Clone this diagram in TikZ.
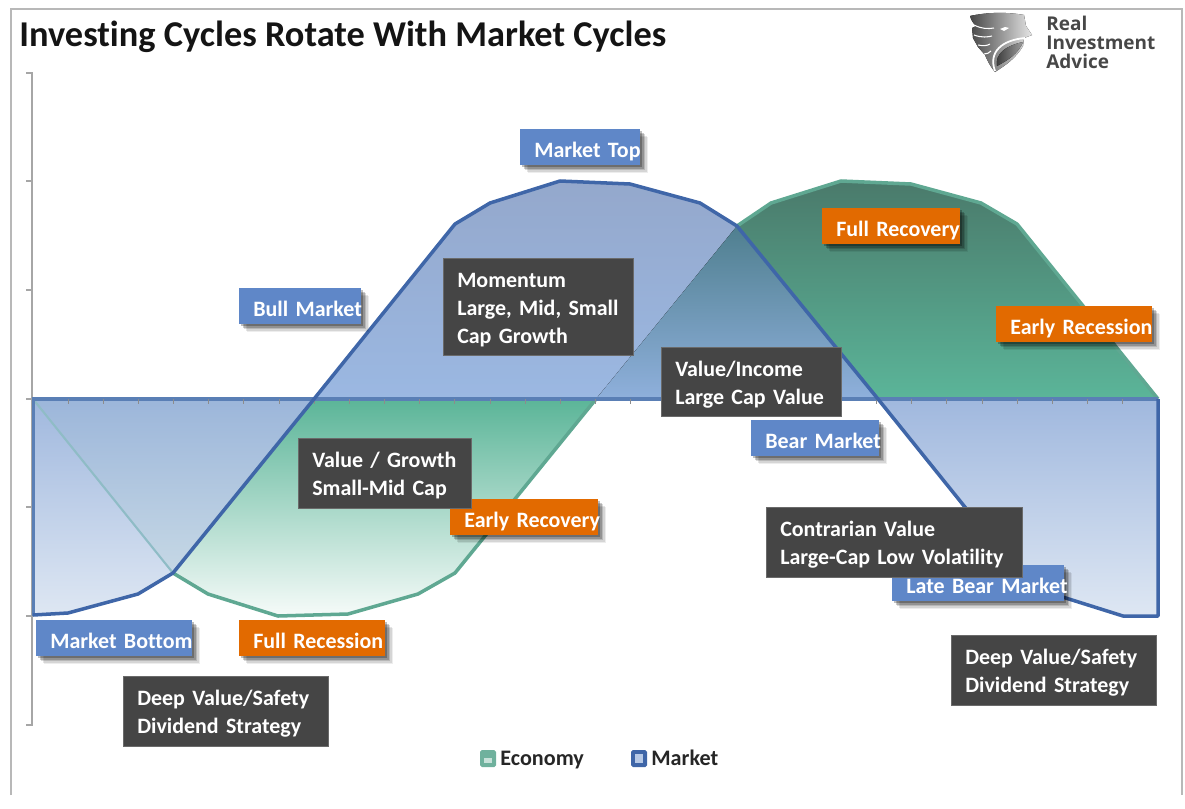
\documentclass[tikz,border=0pt]{standalone}
\usepackage{fontspec}
\setmainfont{Carlito}[Ligatures=NoCommon]
\newfontfamily\logofont{Open Sans}
\usetikzlibrary{shadows}

\definecolor{marketline}{HTML}{3F66A8}
\definecolor{axisline}{HTML}{5A7FB5}
\definecolor{econline}{HTML}{5FA892}
\definecolor{edgefaded}{HTML}{8FBCC6}
\definecolor{tagblue}{HTML}{5F87C8}
\definecolor{tagorange}{HTML}{E26A00}
\definecolor{tagdark}{HTML}{454545}
% fills, top and bottom of each region
\definecolor{bullT}{HTML}{94A8CC}
\definecolor{bullB}{HTML}{9BB8E2}
\definecolor{boomT}{HTML}{4A7A6B}
\definecolor{boomB}{HTML}{5BB599}
\definecolor{mixT}{HTML}{4F7F8F}
\definecolor{mixB}{HTML}{8FB0DC}
\definecolor{bearT}{HTML}{A0B8DE}
\definecolor{bearB}{HTML}{DEE7F3}
\definecolor{lowmixT}{HTML}{9CB6DA}
\definecolor{lowmixB}{HTML}{C6D8E5}
\definecolor{slumpT}{HTML}{5BB598}
\definecolor{slumpB}{HTML}{F6FBF9}

\tikzset{
    softshadow/.style={
        drop shadow={shadow xshift=0.16cm, shadow yshift=-0.16cm, opacity=0.07, fill=black},
        drop shadow={shadow xshift=0.13cm, shadow yshift=-0.13cm, opacity=0.10, fill=black},
        drop shadow={shadow xshift=0.10cm, shadow yshift=-0.10cm, opacity=0.14, fill=black},
        drop shadow={shadow xshift=0.07cm, shadow yshift=-0.07cm, opacity=0.20, fill=black},
        drop shadow={shadow xshift=0.04cm, shadow yshift=-0.04cm, opacity=0.25, fill=black}},
    tagbase/.style={rectangle, anchor=north west, inner xsep=0.28cm, inner ysep=0pt,
        minimum height=0.72cm, text=white, align=left,
        font=\fontsize{12.5}{15.8}\selectfont\bfseries},
    bluetag/.style={tagbase, fill=tagblue, softshadow,
        execute at begin node={\rule[-2.6pt]{0pt}{16.6pt}}},
    orangetag/.style={tagbase, fill=tagorange, softshadow,
        execute at begin node={\rule[-2.6pt]{0pt}{16.6pt}}},
    darkbox/.style={tagbase, fill=tagdark, draw=tagdark!80!white, line width=0.3pt,
        execute at begin node={\rule{0pt}{11.7pt}}},
    legendtext/.style={anchor=base west, inner sep=0pt, text=black!85,
        font=\fontsize{12.6}{14}\selectfont\bfseries}
}

\begin{document}
\begin{tikzpicture}[x=0.02cm, y=-0.02cm]
    \useasboundingbox (0,0) rectangle (1185,808);

    % Frame, open at the bottom
    \draw[black!28, line width=1.1pt] (11,795) -- (11,9) -- (1182,9) -- (1182,795);

    % Market curve
    \coordinate (M0) at (33,615);
    \coordinate (M1) at (68,613);
    \coordinate (M2) at (138,594);
    \coordinate (MLow) at (173,573);
    \coordinate (MUp) at (314,399);
    \coordinate (M3) at (455,224);
    \coordinate (M4) at (490,203);
    \coordinate (M5) at (560,181);
    \coordinate (M6) at (630,184);
    \coordinate (M7) at (700,203);
    \coordinate (Cross) at (737,226);
    \coordinate (MDown) at (878,399);
    \coordinate (M8) at (1018,573);
    \coordinate (M9) at (1053,594);
    \coordinate (M10) at (1123,616);
    \coordinate (M11) at (1158,616);

    % Economy curve
    \coordinate (E0) at (33,399);
    \coordinate (E1) at (208,594);
    \coordinate (E2) at (278,616);
    \coordinate (E3) at (348,614);
    \coordinate (E4) at (418,594);
    \coordinate (E5) at (455,573);
    \coordinate (EUp) at (596,399);
    \coordinate (E6) at (771,203);
    \coordinate (E7) at (841,181);
    \coordinate (E8) at (911,184);
    \coordinate (E9) at (981,203);
    \coordinate (E10) at (1017,224);
    \coordinate (E11) at (1158,399);

    % Fills above the axis
    \fill[top color=bullT, bottom color=bullB]
        (MUp) -- (M3) -- (M4) -- (M5) -- (M6) -- (M7) -- (Cross) -- (EUp) -- cycle;
    \fill[top color=boomT, bottom color=boomB]
        (Cross) -- (E6) -- (E7) -- (E8) -- (E9) -- (E10) -- (E11) -- (MDown) -- cycle;
    \fill[top color=mixT, bottom color=mixB]
        (EUp) -- (Cross) -- (MDown) -- cycle;

    % Fills below the axis
    \fill[top color=bearT, bottom color=bearB]
        (E0) -- (MLow) -- (M2) -- (M1) -- (M0) -- cycle;
    \fill[top color=lowmixT, bottom color=lowmixB]
        (E0) -- (MLow) -- (MUp) -- cycle;
    \fill[top color=slumpT, bottom color=slumpB]
        (MUp) -- (MLow) -- (E1) -- (E2) -- (E3) -- (E4) -- (E5) -- (EUp) -- cycle;
    \fill[top color=bearT, bottom color=bearB]
        (MDown) -- (E11) -- (M11) -- (M10) -- (M9) -- (M8) -- cycle;

    % Axes and ticks
    \draw[black!35, line width=0.7pt] (26,73) -- (32,73) -- (32,725) -- (26,725);
    \foreach \y in {181,290,399,507,616}
        \draw[black!35, line width=0.7pt] (26,\y) -- (32,\y);

    % Economy outline
    \draw[econline, line width=2pt, line join=round]
        (MLow) -- (E1) -- (E2) -- (E3) -- (E4) -- (E5) -- (EUp);
    \draw[econline, line width=2pt, line join=round]
        (Cross) -- (E6) -- (E7) -- (E8) -- (E9) -- (E10) -- (E11);
    \draw[edgefaded, line width=1.2pt] (E0) -- (MLow);

    % Market outline
    \draw[axisline, line width=1.8pt] (33.5,616) -- (33.5,399) -- (E11);
    \foreach \k in {1,...,32}
        \draw[black!45, line width=0.5pt] ({33+35.15*\k},399) -- ({33+35.15*\k},404);
    \draw[marketline, line width=2pt, line join=round]
        (M0) -- (M1) -- (M2) -- (MLow) -- (MUp) -- (M3) -- (M4) -- (M5) -- (M6) -- (M7)
        -- (Cross) -- (MDown) -- (M8) -- (M9) -- (M10) -- (M11) -- (1158,399);

    % Title
    \node[anchor=base west, inner sep=0pt, text=black!92,
        font=\fontsize{20.7}{24}\selectfont\bfseries] (title) at (19,46)
        {Investing Cycles Rotate With Market Cycles};

    % Logo
    \fill[left color=black!72, right color=black!10]
        (970,16) .. controls (988,12) and (1008,12) .. (1024,15) -- (1026,26)
        -- (1032,35) -- (1024,38) -- (1023,46) .. controls (1016,58) and (1006,65) .. (995,72)
        .. controls (990,66) and (987,60) .. (985,55) -- (978,47) -- (973,38) -- (972,28)
        -- (976,26) .. controls (973,23) and (971,20) .. (970,16) -- cycle;
    \fill[left color=black!78, right color=black!38]
        (997,66) .. controls (995,54) and (1005,46) .. (1023,42)
        .. controls (1018,54) and (1008,60) .. (997,66) -- cycle;
    \draw[white, line width=1pt] (995,71) .. controls (988,52) and (1002,40) .. (1025,38);
    \draw[white, line width=0.6pt] (974,25) .. controls (982,29) and (988,29) .. (994,28);
    \draw[white, line width=0.6pt] (974,35) .. controls (982,38) and (988,37) .. (992,36);
    \draw[white, line width=0.6pt] (978,45) .. controls (983,46) and (987,46) .. (990,44);
    \draw[white, line width=0.6pt] (984,54) .. controls (987,54) and (989,53) .. (991,51);
    \fill[white] (1000,29) -- (1005,27) -- (1009,28) -- (1004,31) -- cycle;
    \node[anchor=north west, inner sep=0pt, align=left, text=black!72,
        font=\fontsize{10.8}{10.6}\selectfont\logofont\bfseries] (logo) at (1046,16)
        {Real\\Investment\\Advice};

    % Blue labels
    \node[bluetag, minimum width=2.40cm, text width=1.84cm] (top) at (520,129) {\mbox{Market Top}};
    \node[bluetag, minimum width=2.44cm, text width=1.88cm] (bull) at (239,288) {\mbox{Bull Market}};
    \node[bluetag, minimum width=3.12cm, text width=2.56cm] (bottom) at (36,620) {\mbox{Market Bottom}};
    \node[bluetag, minimum width=2.56cm, text width=2.00cm] (bear) at (751,420) {\mbox{Bear Market}};
    \node[bluetag, minimum width=3.44cm, text width=2.88cm] (latebear) at (892,565) {\mbox{Late Bear Market}};

    % Orange labels
    \node[orangetag, minimum width=2.92cm, text width=2.36cm] (fullrec) at (239,620) {\mbox{Full Recession}};
    \node[orangetag, minimum width=2.96cm, text width=2.40cm] (earlyrec) at (450,499) {\mbox{Early Recovery}};
    \node[orangetag, minimum width=2.76cm, text width=2.20cm] (fullrecov) at (822,208) {\mbox{Full Recovery}};
    \node[orangetag, minimum width=3.12cm, text width=2.56cm] (earlyrecess) at (996,306) {\mbox{Early Recession}};

    % Dark boxes
    \node[darkbox, minimum width=3.80cm, text width=3.24cm, minimum height=1.94cm] (momentum) at (443,258)
        {Momentum\\\mbox{Large, Mid, Small}\\Cap Growth};
    \node[darkbox, minimum width=3.60cm, text width=3.04cm, minimum height=1.38cm] (income) at (661,347)
        {Value/Income\\Large Cap Value};
    \node[darkbox, minimum width=3.46cm, text width=2.90cm, minimum height=1.40cm] (growth) at (298,438)
        {\mbox{Value / Growth}\\Small-Mid Cap};
    \node[darkbox, minimum width=5.12cm, text width=4.56cm, minimum height=1.40cm] (contrarian) at (766,507)
        {Contrarian Value\\Large-Cap Low Volatility};
    \node[darkbox, minimum width=4.10cm, text width=3.54cm, minimum height=1.40cm] (deepleft) at (123,676)
        {Deep Value/Safety\\Dividend Strategy};
    \node[darkbox, minimum width=4.10cm, text width=3.54cm, minimum height=1.40cm] (deepright) at (951,635)
        {Deep Value/Safety\\Dividend Strategy};

    % Legend
    \fill[econline!90!white, rounded corners=1pt] (480,750) rectangle (496,767);
    \fill[econline!35!white] (484,758) rectangle (492,763);
    \node[legendtext] (economy) at (500,765) {Economy};
    \fill[marketline, rounded corners=1pt] (631,750) rectangle (647,767);
    \fill[tagblue!45!white] (635,754) rectangle (643,763);
    \node[legendtext] (market) at (651,765) {Market};
\end{tikzpicture}
\end{document}
